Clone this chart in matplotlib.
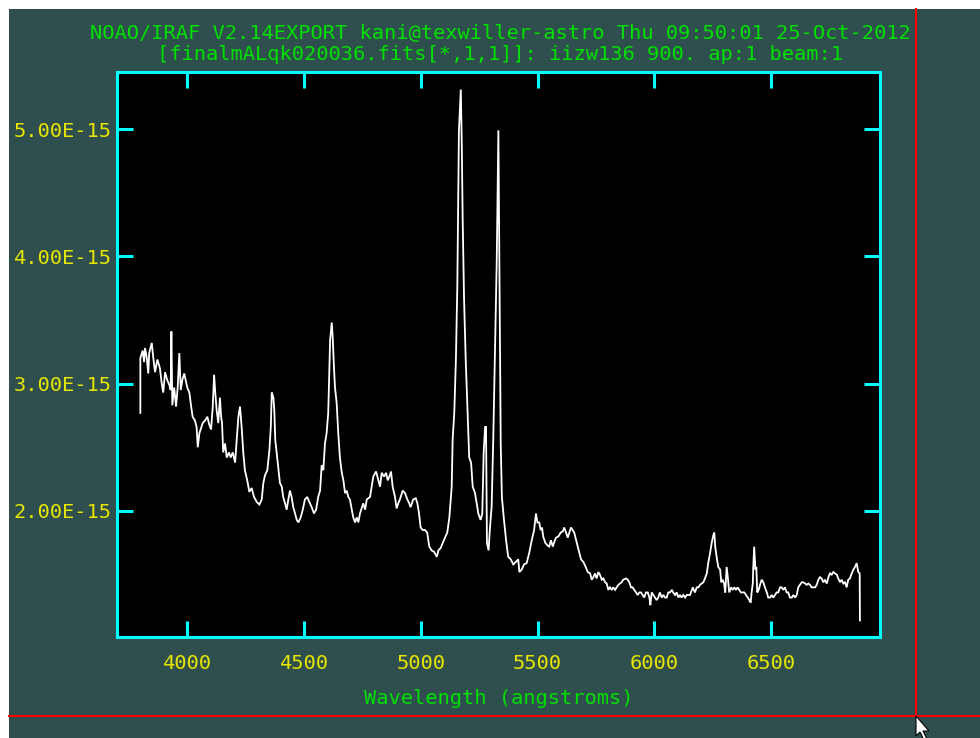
import numpy as np
import matplotlib
matplotlib.use("Agg")
import matplotlib.pyplot as plt
from matplotlib.patches import Rectangle, Polygon
from matplotlib.lines import Line2D

# IRAF splot style spectrum of iizw136

wavelength = [
    3798, 3798, 3808, 3814, 3818, 3825, 3832, 3836, 3847, 3853, 3861, 3871, 3882, 3889, 3896, 3904,
    3913, 3922, 3928, 3931, 3935, 3943, 3951, 3958, 3965, 3971, 3978, 3986, 3994, 3999, 4008, 4015,
    4022, 4032, 4039, 4044, 4051, 4058, 4065, 4075, 4085, 4093, 4101, 4108, 4114, 4119, 4125, 4132,
    4139, 4144, 4148, 4153, 4161, 4168, 4178, 4185, 4194, 4204, 4211, 4218, 4225, 4232, 4239, 4246,
    4256, 4265, 4275, 4285, 4297, 4308, 4318, 4325, 4332, 4342, 4351, 4357, 4361, 4368, 4372, 4376,
    4382, 4389, 4396, 4404, 4410, 4418, 4425, 4432, 4439, 4446, 4453, 4461, 4468, 4475, 4485, 4494,
    4503, 4513, 4522, 4532, 4542, 4551, 4560, 4568, 4575, 4582, 4589, 4596, 4603, 4611, 4618, 4622,
    4628, 4632, 4639, 4646, 4653, 4661, 4668, 4675, 4682, 4689, 4696, 4704, 4710, 4718, 4725, 4732,
    4739, 4746, 4753, 4761, 4768, 4775, 4782, 4789, 4796, 4808, 4818, 4825, 4832, 4842, 4851, 4858,
    4865, 4872, 4879, 4889, 4896, 4903, 4910, 4922, 4932, 4942, 4950, 4956, 4967, 4978, 4985, 4992,
    4999, 5008, 5018, 5027, 5036, 5046, 5056, 5068, 5075, 5085, 5096, 5106, 5113, 5122, 5132, 5136,
    5143, 5150, 5156, 5163, 5171, 5175, 5179, 5185, 5192, 5199, 5207, 5215, 5222, 5232, 5239, 5246,
    5256, 5263, 5269, 5275, 5279, 5283, 5290, 5296, 5303, 5310, 5317, 5325, 5332, 5336, 5342, 5347,
    5356, 5365, 5374, 5385, 5396, 5407, 5417, 5422, 5432, 5442, 5453, 5464, 5475, 5485, 5493, 5499,
    5507, 5513, 5519, 5524, 5533, 5542, 5550, 5557, 5565, 5572, 5579, 5589, 5599, 5608, 5614, 5622,
    5629, 5636, 5643, 5650, 5657, 5665, 5672, 5679, 5686, 5696, 5706, 5715, 5725, 5732, 5739, 5746,
    5753, 5760, 5767, 5775, 5782, 5789, 5796, 5803, 5810, 5818, 5824, 5832, 5839, 5846, 5853, 5860,
    5867, 5879, 5886, 5893, 5900, 5907, 5914, 5922, 5929, 5936, 5943, 5950, 5957, 5964, 5972, 5979,
    5983, 5989, 5996, 6003, 6010, 6017, 6024, 6032, 6039, 6046, 6053, 6060, 6067, 6075, 6081, 6089,
    6096, 6103, 6110, 6117, 6124, 6132, 6139, 6146, 6153, 6165, 6174, 6182, 6189, 6196, 6203, 6210,
    6217, 6225, 6231, 6239, 6246, 6253, 6257, 6261, 6267, 6274, 6282, 6287, 6293, 6299, 6304, 6310,
    6316, 6321, 6329, 6336, 6343, 6350, 6357, 6364, 6371, 6379, 6386, 6393, 6400, 6407, 6413, 6417,
    6422, 6424, 6428, 6433, 6437, 6441, 6447, 6453, 6460, 6467, 6474, 6482, 6488, 6496, 6503, 6510,
    6517, 6524, 6531, 6539, 6546, 6553, 6560, 6567, 6574, 6581, 6589, 6596, 6603, 6610, 6617, 6624,
    6632, 6638, 6646, 6653, 6660, 6667, 6674, 6681, 6689, 6696, 6703, 6710, 6717, 6724, 6731, 6739,
    6746, 6753, 6760, 6767, 6774, 6782, 6788, 6796, 6803, 6810, 6817, 6824, 6831, 6838, 6846, 6853,
    6860, 6867, 6874, 6880, 6881,
]

# flux in units of 1e-15 erg/cm2/s/A
flux = [
    2.77, 3.20, 3.26, 3.17, 3.28, 3.21, 3.08, 3.24, 3.32, 3.21, 3.09, 3.19, 3.12, 3.01, 2.93, 3.09,
    3.03, 2.99, 2.95, 3.41, 2.83, 2.97, 2.82, 2.97, 3.24, 2.95, 3.03, 3.08, 3.01, 2.97, 2.93, 2.83,
    2.74, 2.71, 2.66, 2.50, 2.61, 2.65, 2.69, 2.71, 2.74, 2.68, 2.64, 2.81, 3.07, 2.93, 2.79, 2.69,
    2.89, 2.74, 2.69, 2.46, 2.53, 2.42, 2.46, 2.42, 2.46, 2.38, 2.56, 2.74, 2.82, 2.66, 2.46, 2.32,
    2.24, 2.15, 2.18, 2.11, 2.07, 2.05, 2.09, 2.22, 2.28, 2.32, 2.48, 2.66, 2.93, 2.89, 2.79, 2.56,
    2.46, 2.35, 2.22, 2.19, 2.11, 2.06, 2.01, 2.09, 2.16, 2.11, 2.03, 1.98, 1.93, 1.91, 1.95, 2.01,
    2.09, 2.11, 2.07, 2.03, 1.98, 2.01, 2.11, 2.16, 2.36, 2.32, 2.53, 2.61, 2.77, 3.34, 3.48, 3.37,
    3.11, 2.97, 2.85, 2.61, 2.42, 2.30, 2.24, 2.14, 2.16, 2.11, 2.09, 2.01, 1.95, 1.91, 1.95, 1.91,
    1.98, 2.02, 2.06, 2.01, 2.09, 2.10, 2.11, 2.19, 2.27, 2.31, 2.24, 2.19, 2.30, 2.27, 2.30, 2.24,
    2.27, 2.31, 2.19, 2.11, 2.02, 2.06, 2.09, 2.16, 2.14, 2.09, 2.06, 2.03, 2.09, 2.10, 2.06, 1.98,
    1.87, 1.85, 1.85, 1.83, 1.72, 1.69, 1.68, 1.64, 1.69, 1.71, 1.76, 1.80, 1.83, 1.95, 2.19, 2.56,
    2.77, 3.19, 3.76, 4.99, 5.31, 4.90, 4.29, 3.66, 3.19, 2.83, 2.42, 2.38, 2.19, 2.14, 2.06, 1.98,
    1.93, 1.98, 2.46, 2.66, 2.66, 1.75, 1.69, 1.87, 2.03, 2.56, 3.21, 3.97, 4.99, 3.97, 2.53, 2.11,
    1.93, 1.77, 1.64, 1.62, 1.58, 1.60, 1.62, 1.52, 1.54, 1.58, 1.59, 1.67, 1.77, 1.85, 1.98, 1.91,
    1.91, 1.85, 1.87, 1.80, 1.75, 1.73, 1.72, 1.77, 1.72, 1.76, 1.79, 1.80, 1.83, 1.84, 1.87, 1.83,
    1.79, 1.83, 1.87, 1.85, 1.83, 1.77, 1.72, 1.67, 1.62, 1.60, 1.56, 1.52, 1.51, 1.46, 1.48, 1.51,
    1.47, 1.52, 1.50, 1.46, 1.47, 1.44, 1.43, 1.38, 1.40, 1.38, 1.40, 1.38, 1.40, 1.42, 1.43, 1.44,
    1.46, 1.47, 1.46, 1.44, 1.40, 1.40, 1.38, 1.36, 1.34, 1.36, 1.36, 1.34, 1.32, 1.36, 1.36, 1.32,
    1.26, 1.36, 1.34, 1.32, 1.30, 1.32, 1.36, 1.32, 1.34, 1.32, 1.32, 1.36, 1.36, 1.38, 1.36, 1.34,
    1.36, 1.32, 1.34, 1.32, 1.34, 1.32, 1.34, 1.34, 1.34, 1.40, 1.36, 1.40, 1.40, 1.42, 1.43, 1.44,
    1.47, 1.51, 1.59, 1.67, 1.75, 1.81, 1.83, 1.72, 1.64, 1.56, 1.54, 1.44, 1.46, 1.43, 1.36, 1.56,
    1.46, 1.36, 1.40, 1.38, 1.40, 1.38, 1.40, 1.38, 1.36, 1.36, 1.36, 1.34, 1.32, 1.30, 1.28, 1.36,
    1.43, 1.56, 1.72, 1.54, 1.56, 1.36, 1.38, 1.42, 1.46, 1.44, 1.40, 1.36, 1.32, 1.32, 1.34, 1.32,
    1.34, 1.36, 1.36, 1.40, 1.40, 1.38, 1.40, 1.36, 1.36, 1.32, 1.32, 1.34, 1.32, 1.34, 1.40, 1.42,
    1.44, 1.44, 1.43, 1.42, 1.43, 1.42, 1.40, 1.40, 1.40, 1.42, 1.46, 1.48, 1.47, 1.44, 1.46, 1.43,
    1.48, 1.51, 1.50, 1.52, 1.51, 1.50, 1.47, 1.44, 1.46, 1.43, 1.44, 1.40, 1.46, 1.47, 1.51, 1.54,
    1.56, 1.59, 1.52, 1.51, 1.14,
]

yticks = [2e-15, 3e-15, 4e-15, 5e-15]
xticks = [4000, 4500, 5000, 5500, 6000, 6500]

title1 = "NOAO/IRAF V2.14EXPORT kani@texwiller-astro Thu 09:50:01 25-Oct-2012"
title2 = "[finalmALqk020036.fits[*,1,1]]: iizw136 900. ap:1 beam:1"
xlabel = "Wavelength (angstroms)"

W, H = 980, 738
slate = "#2f4f4f"
cyan = "#00ffff"
green = "#00e000"
yellow = "#e6e600"
mono = "DejaVu Sans Mono"
fs = 14.7

fig = plt.figure(figsize=(W / 100, H / 100), dpi=100, facecolor="white")

# window background (white strip on top and left)
fig.patches.append(Rectangle((9 / W, 0), 1 - 9 / W, 1 - 9 / H,
                             transform=fig.transFigure, facecolor=slate,
                             edgecolor="none", zorder=-10))

ax = fig.add_axes([117 / W, 1 - 637 / H, (880 - 117) / W, (637 - 72) / H])
ax.set_facecolor("black")

x = np.array(wavelength, dtype=float)
y = np.array(flux) * 1e-15
ax.plot(x, y, color="white", lw=1.3, solid_joinstyle="miter")

ax.set_xlim(3698, 6967)
ax.set_ylim(1.01e-15, 5.448e-15)
ax.set_xticks(xticks)
ax.set_yticks(yticks)
ax.set_xticklabels([str(t) for t in xticks])
ax.set_yticklabels(["%.2E" % t for t in yticks])

for s in ax.spines.values():
    s.set_color(cyan)
    s.set_linewidth(2.2)

ax.tick_params(which="both", direction="in", length=11.5, width=2.2,
               color=cyan, top=True, right=True, labelsize=fs)
ax.tick_params(axis="x", pad=12, labelcolor=yellow)
ax.tick_params(axis="y", pad=4, labelcolor=yellow)
for lab in ax.get_xticklabels() + ax.get_yticklabels():
    lab.set_fontfamily(mono)

ax.set_xlabel(xlabel, color=green, fontsize=fs, family=mono, labelpad=12)

fig.text(500 / W, 1 - 33 / H, title1, color=green, fontsize=fs, family=mono,
         ha="center", va="center")
fig.text(500 / W, 1 - 55 / H, title2, color=green, fontsize=fs, family=mono,
         ha="center", va="center")

# crosshair cursor
fig.add_artist(Line2D([916 / W, 916 / W], [1 - 716 / H, 1 - 9 / H],
                      transform=fig.transFigure, color="red", lw=1.5))
fig.add_artist(Line2D([9 / W, 1], [1 - 716 / H, 1 - 716 / H],
                      transform=fig.transFigure, color="red", lw=1.5))
arrow = np.array([[0, 0], [0, 20], [4, 16], [8, 24], [11, 23], [7, 15], [13, 15]])
pts = [((916 + dx) / W, 1 - (716 + dy) / H) for dx, dy in arrow]
fig.add_artist(Polygon(pts, closed=True, transform=fig.transFigure,
                       facecolor="white", edgecolor="black", lw=0.8, zorder=10))

fig.savefig("out.png", dpi=100, facecolor="white")
